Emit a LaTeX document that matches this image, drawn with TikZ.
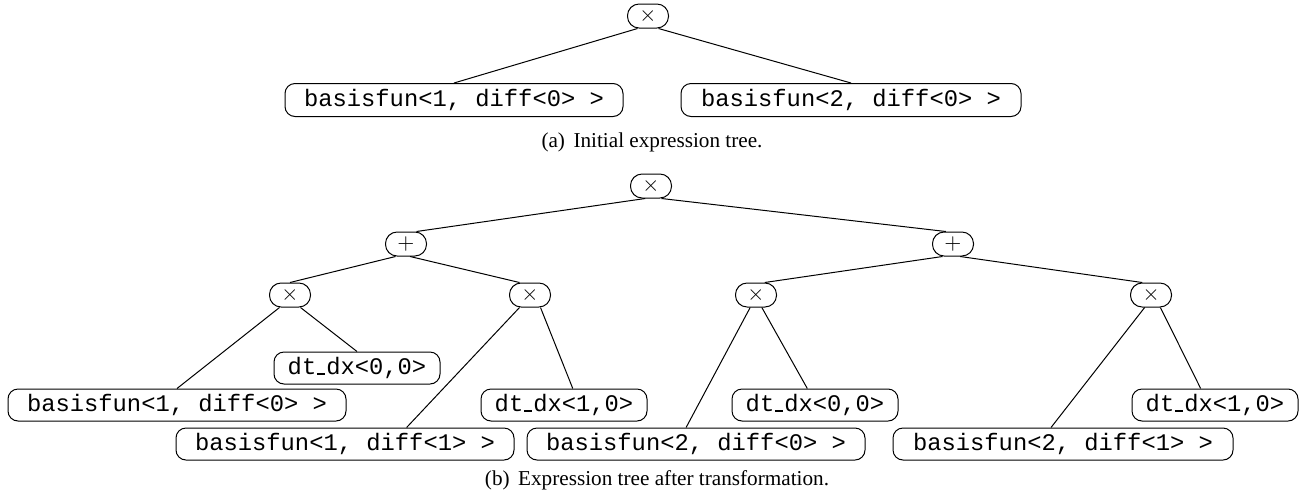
\documentclass[tikz,border=0pt]{standalone}
\usepackage{fontspec}
\setmainfont{Liberation Serif}
\setmonofont{Liberation Mono}
\newcommand\dtbar{\kern0.5pt\vbox{\hrule height 0.9pt width 4pt}\kern0.5pt}
\tikzset{
  op/.style={draw, rounded corners=5.8pt, minimum width=20.5pt, minimum height=12pt,
    inner sep=0pt, font=\fontsize{11}{11}\selectfont, line width=0.5pt},
  leaf/.style={draw, rounded corners=5pt, minimum height=16pt, inner sep=0pt,
    font=\ttfamily\fontsize{11.9}{12}\selectfont, line width=0.5pt},
  bf/.style={leaf, minimum width=169pt},
  dt/.style={leaf, minimum width=83pt},
  edge/.style={line width=0.5pt},
  captext/.style={font=\fontsize{10.6}{12}\selectfont, inner sep=0pt}
}
\begin{document}
\begin{tikzpicture}[x=0.5pt, y=-0.5pt]
\useasboundingbox (0,0) rectangle (1311,499);
% (a)
\node[op] (ra) at (648,16) {$\times$};
\node[bf, minimum height=16.5pt] (la) at (454,100) {basisfun<1, diff<0> >};
\node[bf, minimum width=170pt, minimum height=16.5pt] (lb) at (851,100) {basisfun<2, diff<0> >};
\node[captext] (ca) at (652,142) {(a)\hspace{0.4em}Initial expression tree.};
\draw[edge] (ra.-130) -- (la.north);
\draw[edge] (ra.-50) -- (lb.north);
% (b)
\node[op] (rb) at (651,186) {$\times$};
\node[op] (pl) at (406,244) {$+$};
\node[op] (pr) at (953,244) {$+$};
\node[op] (m1) at (290,295) {$\times$};
\node[op] (m2) at (530,295) {$\times$};
\node[op] (m3) at (756,295) {$\times$};
\node[op] (m4) at (1151,295) {$\times$};
\node[dt] (d1) at (357,368) {dt\dtbar dx<0,0>};
\node[bf] (b10) at (177,405) {basisfun<1, diff<0> >};
\node[dt] (d2) at (564,405) {dt\dtbar dx<1,0>};
\node[bf] (b11) at (345,444) {basisfun<1, diff<1> >};
\node[bf] (b20) at (696,444) {basisfun<2, diff<0> >};
\node[dt] (d3) at (815,405) {dt\dtbar dx<0,0>};
\node[bf, minimum width=170pt] (b21) at (1063,444) {basisfun<2, diff<1> >};
\node[dt] (d4) at (1215,405) {dt\dtbar dx<1,0>};
\node[captext] (cb) at (657,480) {(b)\hspace{0.4em}Expression tree after transformation.};
\draw[edge] (rb.-115) -- (pl.50);
\draw[edge] (rb.-50) -- (pr.120);
\draw[edge] (pl.-130) -- (m1.north);
\draw[edge] (pl.-72) -- (m2.130);
\draw[edge] (pr.-130) -- (m3.55);
\draw[edge] (pr.-60) -- (m4.125);
\draw[edge] (m1.-130) -- (b10.north);
\draw[edge] (m1.-50) -- (d1.north);
\draw[edge] (m2.-130) -- (b11.15);
\draw[edge] (m2.-50) -- (d2.62);
\draw[edge] (m3.-115) -- (b20.121);
\draw[edge] (m3.-65) -- (d3.115);
\draw[edge] (m4.-117) -- (b21.126);
\draw[edge] (m4.-53) -- (d4.131);
\end{tikzpicture}
\end{document}
